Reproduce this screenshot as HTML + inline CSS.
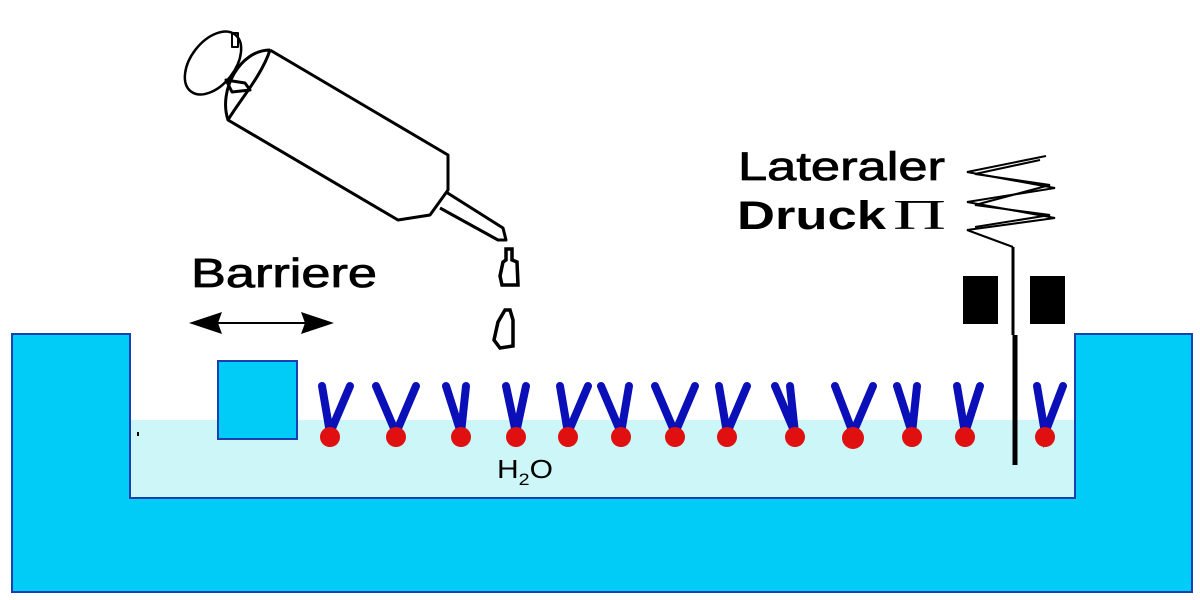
<!DOCTYPE html>
<html><head><meta charset="utf-8"><style>
html,body{margin:0;padding:0;background:#fff;}
svg{display:block;}
</style></head><body>
<svg width="1200" height="600" viewBox="0 0 1200 600" xmlns="http://www.w3.org/2000/svg">
<rect width="1200" height="600" fill="#fff"/>
<rect x="130" y="420" width="945" height="78" fill="#cdf6f8"/>
<path d="M12,334 L130,334 L130,498 L1075,498 L1075,334 L1192,334 L1192,592 L12,592 Z" fill="#00cdf7" stroke="#1a3fb0" stroke-width="2"/>
<rect x="137" y="432" width="2" height="4" fill="#000"/>
<rect x="218" y="361" width="79" height="78" fill="#00cdf7" stroke="#1a3fb0" stroke-width="2"/>
<line x1="195" y1="323" x2="328" y2="323" stroke="#000" stroke-width="2"/>
<path d="M189,323 L222,312 L218,323 L222,334 Z" fill="#000"/>
<path d="M334,323 L301,312 L305,323 L301,334 Z" fill="#000"/>
<text x="191" y="287" textLength="186" lengthAdjust="spacingAndGlyphs" font-family="Liberation Sans, sans-serif" font-size="41" fill="#000" stroke="#000" stroke-width="0.8">Barriere</text>
<g fill="none" stroke="#000" stroke-width="3" stroke-linejoin="round">
<ellipse cx="213" cy="63" rx="22" ry="36" transform="rotate(38 213 63)" stroke-width="2.5"/>
<rect x="232" y="33" width="6" height="14" stroke-width="2"/>
<path d="M226,80 L245,83 L250,90 L232,92 Z" fill="#fff"/>
<path d="M270,50 L448,155 L448,190 L430,215 L398,220 L228,120"/>
<path d="M270,50 C240,50 218,90 228,120 C240,100 262,75 270,50"/>
<path d="M446,192 L503,228 L506,240 L498,240 L440,208"/>
</g>
<path d="M506,249 L512,249 L512,260 L517,262 L518,285 L502,285 L500,276 L503,262 L506,260 Z" fill="none" stroke="#000" stroke-width="3.5"/>
<path d="M505,310 L510,310 L513,320 L513,346 L500,348 L494,340 L498,322 Z" fill="none" stroke="#000" stroke-width="3.5"/>
<g stroke="#0a0fb8" stroke-width="8" stroke-linecap="round" fill="none">
<path d="M322,386 L330,433 L350,386"/>
<path d="M376,386 L396,433 L416,386"/>
<path d="M446,386 L461,433 L466,386"/>
<path d="M506,386 L516,433 L526,386"/>
<path d="M560,386 L568,433 L588,386"/>
<path d="M601,386 L621,433 L629,386"/>
<path d="M655,386 L675,433 L695,386"/>
<path d="M719,386 L727,433 L747,386"/>
<path d="M775,386 L795,433 L790,386"/>
<path d="M835,386 L853,433 L873,386"/>
<path d="M897,386 L912,433 L917,386"/>
<path d="M957,386 L965,433 L980,386"/>
<path d="M1037,386 L1045,433 L1063,386"/>
</g>
<g fill="#e01010">
<circle cx="330" cy="437" r="10"/><circle cx="396" cy="437" r="10"/><circle cx="461" cy="437" r="10"/>
<circle cx="516" cy="437" r="10"/><circle cx="568" cy="437" r="10"/><circle cx="621" cy="437" r="10"/>
<circle cx="675" cy="437" r="10"/><circle cx="727" cy="437" r="10"/><circle cx="795" cy="437" r="10"/>
<circle cx="853" cy="438" r="11"/><circle cx="912" cy="437" r="10"/><circle cx="965" cy="437" r="10"/>
<circle cx="1045" cy="437" r="10"/>
</g>
<text x="497" y="478" font-family="Liberation Sans, sans-serif" font-size="26" fill="#000" textLength="56" lengthAdjust="spacingAndGlyphs">H<tspan font-size="17" dy="7">2</tspan><tspan dy="-7">O</tspan></text>
<rect x="963" y="276" width="35" height="48" fill="#000"/>
<rect x="1030" y="276" width="35" height="48" fill="#000"/>
<line x1="1013" y1="247" x2="1013" y2="335" stroke="#000" stroke-width="3"/>
<line x1="1015" y1="335" x2="1015" y2="465" stroke="#000" stroke-width="5"/>
<g fill="none" stroke="#000" stroke-width="2">
<polyline points="1046,156 967,172 1055,188 967,202 1055,218 967,230 1013,247"/>
<polyline points="1040,160 975,174 1050,185 975,205 1050,215 975,227"/>
</g>
<text x="738" y="180" textLength="207" lengthAdjust="spacingAndGlyphs" font-family="Liberation Sans, sans-serif" font-size="40" fill="#000" stroke="#000" stroke-width="0.8">Lateraler</text>
<text x="737" y="229" textLength="149" lengthAdjust="spacingAndGlyphs" font-family="Liberation Sans, sans-serif" font-size="40" font-weight="bold" fill="#000">Druck</text>
<text x="893" y="229" textLength="53" lengthAdjust="spacingAndGlyphs" font-family="Liberation Serif, serif" font-size="42" fill="#000">Π</text>
</svg>
</body></html>
